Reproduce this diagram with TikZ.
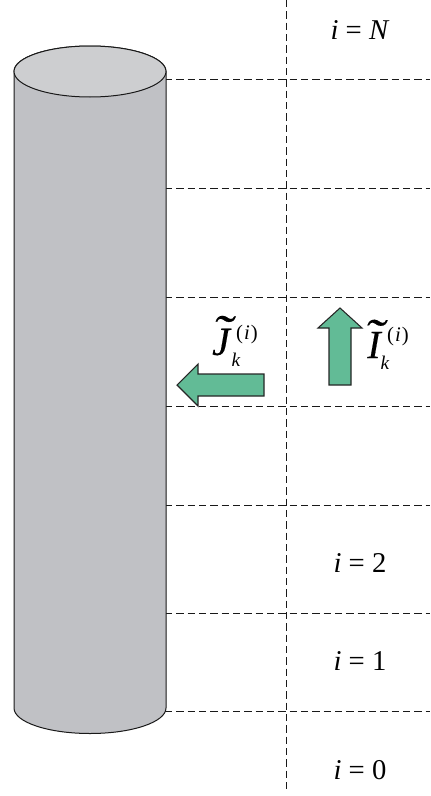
\documentclass[tikz,border=0pt]{standalone}
\usepackage{graphicx}
\usepackage{fontspec}
\setmainfont{Liberation Serif}
\newfontfamily\heavy[FakeBold=0.3]{Liberation Serif}
\newcommand{\lab}[2]{\fontsize{21.5}{24}\selectfont\textit{#1} = #2}
\newcommand{\tilded}[3]{\rlap{\smash{\raisebox{#2}{\kern#3\scalebox{1.25}[1]{\fontsize{36}{38}\selectfont ˜}}}}#1}
\newcommand{\supi}{(\kern0.8pt\textit{i}\kern0.8pt)}
\definecolor{cylbody}{RGB}{192,193,197}
\definecolor{cyltop}{RGB}{205,206,208}
\definecolor{arrowfill}{RGB}{98,187,150}
\tikzset{
  grid/.style={dash pattern=on 5.5pt off 3pt,line width=0.6pt,black!90},
  outl/.style={draw=black!90,line width=0.75pt},
  arrowshape/.style={draw=black!85,fill=arrowfill,line width=0.8pt,line join=miter},
  txt/.style={inner sep=0pt,text=black},
  bigl/.style={txt,font=\fontsize{30}{32}\selectfont\heavy\itshape},
  supl/.style={txt,font=\fontsize{15.5}{16}\selectfont},
  subl/.style={txt,font=\fontsize{14.5}{16}\selectfont\itshape}
}
\begin{document}
\begin{tikzpicture}[x=0.75pt,y=-0.75pt]
\useasboundingbox (0,0) rectangle (430,796);
% grid
\coordinate (vt) at (286,0); \coordinate (vb) at (286,793);
\draw[grid] (vt) -- (vb);
\foreach \y/\n in {79/a,188/b,297/c,406/d,505/e,613/f,711/g}{
  \coordinate (l\n) at (165,\y); \coordinate (r\n) at (430,\y);
  \draw[grid] (l\n) -- (r\n);
}
% cylinder
\path[fill=cylbody,outl] (14,71.5) -- (14,708) arc[start angle=180,end angle=0,x radius=76,y radius=25.5] -- (166,71.5) arc[start angle=0,end angle=-180,x radius=76,y radius=25.5] -- cycle;
\path[fill=cyltop,outl] (90,71.5) ellipse[x radius=76,y radius=25.5];
% arrows
\path[arrowshape] (264,374) -- (198,374) -- (198,364) -- (177,385) -- (198,406) -- (198,396) -- (264,396) -- cycle;
\path[arrowshape] (329,385) -- (329,328) -- (318,328) -- (340,308) -- (362,328) -- (351,328) -- (351,385) -- cycle;
% labels
\node[txt] (iN) at (360,30) {\lab{i}{\textit{N}}};
\node[txt] (i2) at (360,563) {\lab{i}{2}};
\node[txt] (i1) at (360,661) {\lab{i}{1}};
\node[txt] (i0) at (360,770) {\lab{i}{0}};
\node[bigl] (J) at (221,342) {\tilded{J}{5pt}{0pt}};
\node[supl] (Js) at (247,334.5) {\supi};
\node[subl] (Jk) at (236,360) {k};
\node[bigl] (I) at (374,345) {\tilded{I}{4.5pt}{-2.6pt}};
\node[supl] (Is) at (398,336.5) {\supi};
\node[subl] (Ik) at (385,363) {k};
\end{tikzpicture}
\end{document}
